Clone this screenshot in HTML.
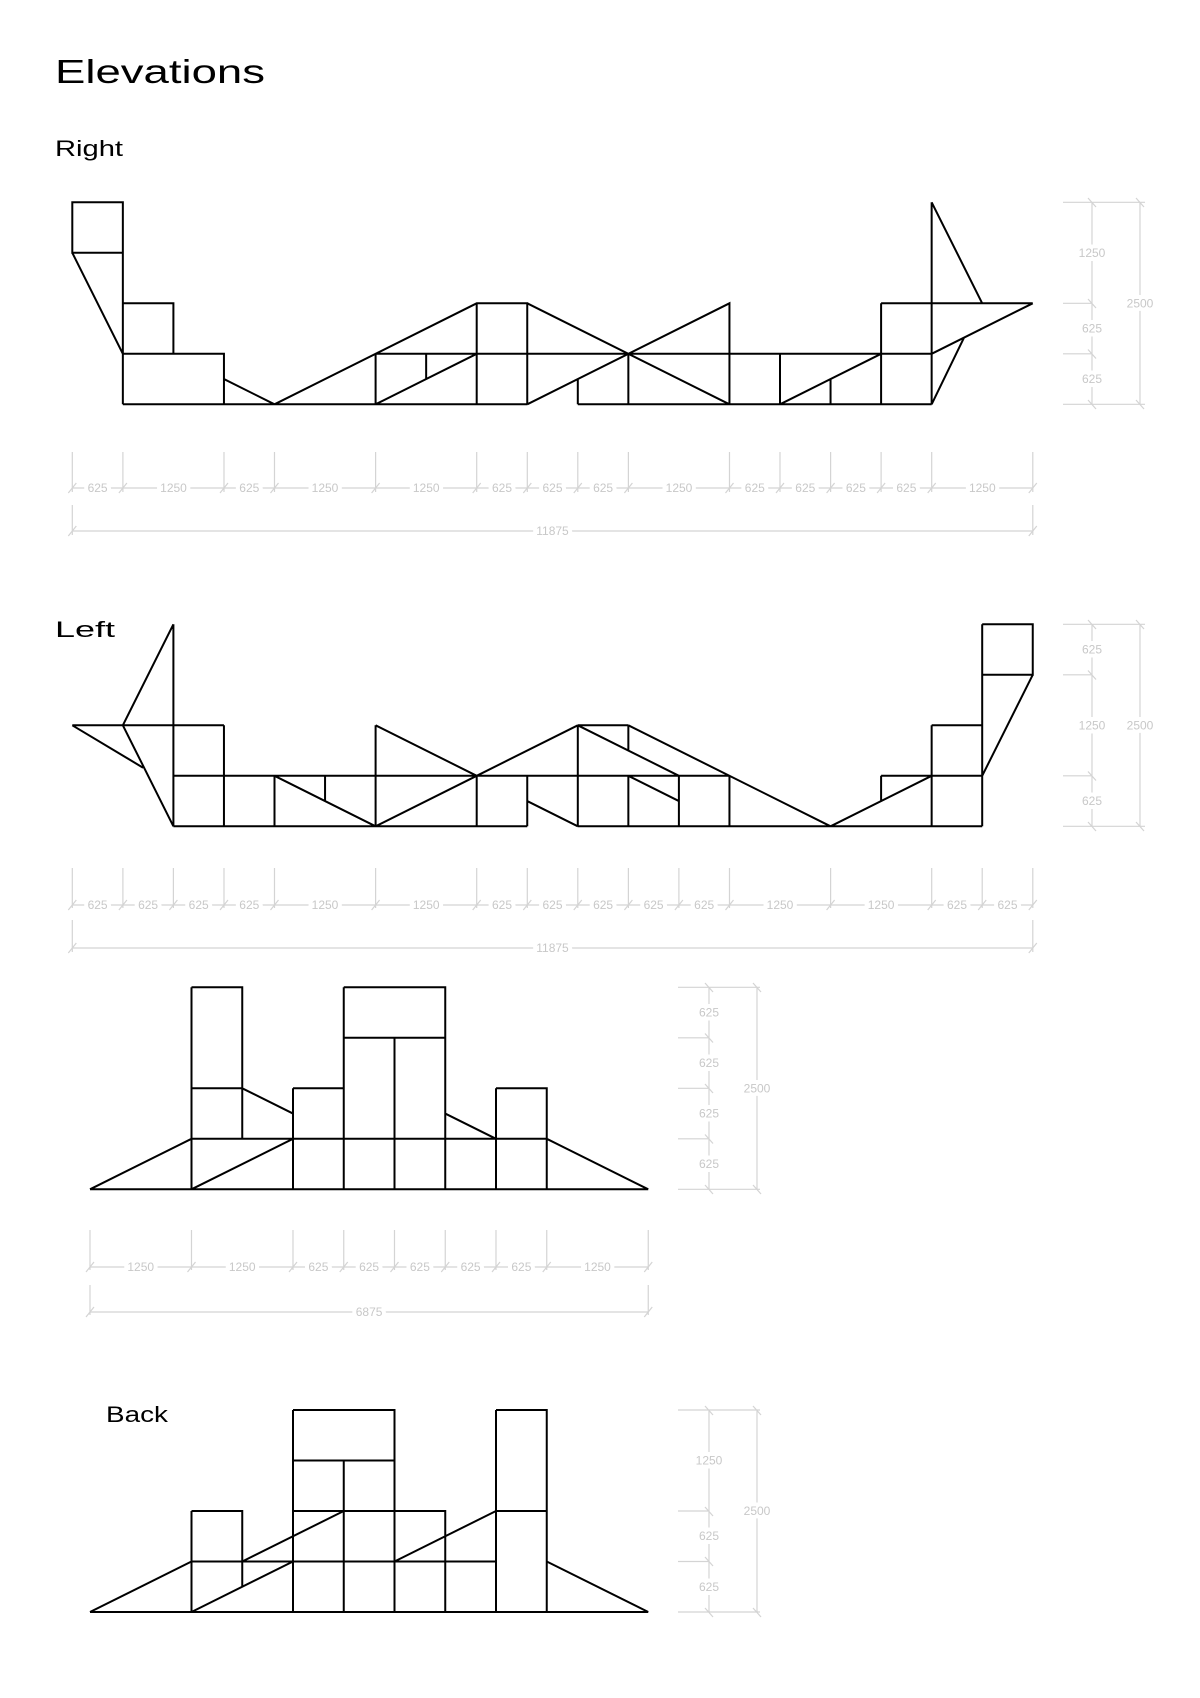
<!DOCTYPE html>
<html><head><meta charset="utf-8"><style>
html,body{margin:0;padding:0;background:#fff;}
svg{display:block;}
.g path{fill:none;stroke:#000;stroke-width:2;vector-effect:non-scaling-stroke;stroke-linejoin:miter;}
.d line,.d path{stroke:#d4d4d4;stroke-width:1.2;fill:none;}
.d text{font-family:"Liberation Sans",sans-serif;font-size:12px;fill:#c8c8c8;text-anchor:middle;dominant-baseline:central;paint-order:stroke;stroke:#fff;stroke-width:8px;}
.t{font-family:"Liberation Sans",sans-serif;fill:#000;}
</style></head><body>
<svg width="1200" height="1698" viewBox="0 0 1200 1698" xmlns="http://www.w3.org/2000/svg">
<text class="t" x="55" y="83" font-size="33" textLength="210" lengthAdjust="spacingAndGlyphs">Elevations</text>
<text class="t" x="55" y="156" font-size="22" textLength="68" lengthAdjust="spacingAndGlyphs">Right</text>
<text class="t" x="55" y="637" font-size="22" textLength="60" lengthAdjust="spacingAndGlyphs">Left</text>
<text class="t" x="106" y="1422" font-size="22" textLength="62" lengthAdjust="spacingAndGlyphs">Back</text>

<!-- RIGHT -->
<g class="g" transform="translate(72.3,202.3) scale(50.55,50.5)"><path d="M0 0H1V1H0Z M0 1L1 3 M1 1V4 M1 2H2V3 M1 3H3V4H1 M3 3.5L4 4 M1 4H9 M4 4L8 2H9V4 M8 2V4 M6 3H17 M6 3V4 M7 3V3.5 M6 4L8 3 M9 2L13 4 M9 4L13 2V4 M10 3.5V4 M10 4H17 M11 3V4 M14 3V4 M14 4L16 3 M15 3.5V4 M16 2H19 M16 2V4 M17 0V4 M17 0L18 2 M19 2L17 3 M17 4L17.64 2.68"/></g>

<!-- LEFT -->
<g class="g" transform="translate(72.3,624.3) scale(50.55,50.5)"><path d="M0 2H3 M0 2L1.4 2.84 M1 2L2 4 M2 0L1 2 M2 0V4 M3 2V4 M2 3H13 M2 4H9 M10 4H18 M4 3V4 M4 3L6 4 M5 3V3.5 M6 2V4 M6 2L8 3 M6 4L8 3L10 2 M8 3V4 M9 3V4 M9 3.5L10 4 M10 2V4 M10 2H11 M11 2V2.5 M11 3V4 M10 2L12 3 M11 2L15 4 M11 3L12 3.5 M12 3V4 M13 3V4 M15 4L17 3 M16 3H18 M16 3V3.5 M17 2V4 M17 2H18 M18 0V4 M18 0H19V1H18 M19 1L18 3"/></g>

<!-- FRONT -->
<g class="g" transform="translate(90,987.3) scale(50.75,50.5)"><path d="M0 4H11 M0 4L2 3H9L11 4 M2 4L4 3 M2 0V4 M2 0H3V3 M2 2H3 M3 2L4 2.5 M4 2H5 M4 2V4 M5 0V4 M5 0H7V4 M5 1H7 M6 1V4 M7 2.5L8 3 M8 2H9V4 M8 2V4"/></g>

<!-- BACK -->
<g class="g" transform="translate(90,1410) scale(50.75,50.5)"><path d="M0 4H11 M0 4L2 3H8 M9 3L11 4 M2 2H3V3.5 M2 2V4 M2 4L4 3 M3 3L5 2 M6 3L8 2 M4 0H6V4 M4 0V4 M4 1H6 M5 1V4 M4 2H7V4 M8 0H9V4 M8 0V4 M8 2H9"/></g>

<!-- DIMS RIGHT horizontal -->
<g class="d">
<path d="M72.3 452V492 M122.9 452V492 M224 452V492 M274.5 452V492 M375.6 452V492 M476.7 452V492 M527.3 452V492 M577.8 452V492 M628.4 452V492 M729.5 452V492 M780 452V492 M830.6 452V492 M881.1 452V492 M931.7 452V492 M1032.8 452V492 M72.3 488H1032.8 M72.3 505V535 M1032.8 505V535 M72.3 531H1032.8"/>
<path d="M68.3 493L76.3 483 M118.9 493L126.9 483 M220 493L228 483 M270.5 493L278.5 483 M371.6 493L379.6 483 M472.7 493L480.7 483 M523.3 493L531.3 483 M573.8 493L581.8 483 M624.4 493L632.4 483 M725.5 493L733.5 483 M776 493L784 483 M826.6 493L834.6 483 M877.1 493L885.1 483 M927.7 493L935.7 483 M1028.8 493L1036.8 483 M68.3 536L76.3 526 M1028.8 536L1036.8 526"/>
<text x="97.6" y="488">625</text><text x="173.5" y="488">1250</text><text x="249.3" y="488">625</text><text x="325" y="488">1250</text><text x="426.2" y="488">1250</text><text x="502" y="488">625</text><text x="552.5" y="488">625</text><text x="603.1" y="488">625</text><text x="679" y="488">1250</text><text x="754.8" y="488">625</text><text x="805.3" y="488">625</text><text x="855.9" y="488">625</text><text x="906.4" y="488">625</text><text x="982.3" y="488">1250</text>
<text x="552.5" y="531">11875</text>
</g>
<!-- RIGHT vertical -->
<g class="d">
<path d="M1063 202.3H1145 M1063 303.3H1092 M1063 353.8H1092 M1063 404.3H1145 M1092 202.3V404.3 M1140 202.3V404.3 M1088 198L1096 207 M1088 299L1096 308 M1088 349.5L1096 358.5 M1088 400L1096 409 M1136 198L1144 207 M1136 400L1144 409"/>
<text x="1092" y="252.8">1250</text><text x="1092" y="328.5">625</text><text x="1092" y="379">625</text><text x="1140" y="303.3">2500</text>
</g>

<!-- DIMS LEFT horizontal -->
<g class="d">
<path d="M72.3 868V908 M122.9 868V908 M173.4 868V908 M224 868V908 M274.5 868V908 M375.6 868V908 M476.7 868V908 M527.3 868V908 M577.8 868V908 M628.4 868V908 M678.9 868V908 M729.5 868V908 M830.6 868V908 M931.7 868V908 M982.2 868V908 M1032.8 868V908 M72.3 905H1032.8 M72.3 920V952 M1032.8 920V952 M72.3 948H1032.8"/>
<path d="M68.3 910L76.3 900 M118.9 910L126.9 900 M169.4 910L177.4 900 M220 910L228 900 M270.5 910L278.5 900 M371.6 910L379.6 900 M472.7 910L480.7 900 M523.3 910L531.3 900 M573.8 910L581.8 900 M624.4 910L632.4 900 M674.9 910L682.9 900 M725.5 910L733.5 900 M826.6 910L834.6 900 M927.7 910L935.7 900 M978.2 910L986.2 900 M1028.8 910L1036.8 900 M68.3 953L76.3 943 M1028.8 953L1036.8 943"/>
<text x="97.6" y="905">625</text><text x="148.1" y="905">625</text><text x="198.7" y="905">625</text><text x="249.3" y="905">625</text><text x="325" y="905">1250</text><text x="426.2" y="905">1250</text><text x="502" y="905">625</text><text x="552.5" y="905">625</text><text x="603.1" y="905">625</text><text x="653.6" y="905">625</text><text x="704.2" y="905">625</text><text x="780" y="905">1250</text><text x="881.1" y="905">1250</text><text x="957" y="905">625</text><text x="1007.5" y="905">625</text>
<text x="552.5" y="948">11875</text>
</g>
<!-- LEFT vertical -->
<g class="d">
<path d="M1063 624.3H1145 M1063 674.8H1092 M1063 775.8H1092 M1063 826.3H1145 M1092 624.3V826.3 M1140 624.3V826.3 M1088 620L1096 629 M1088 670.5L1096 679.5 M1088 771.5L1096 780.5 M1088 822L1096 831 M1136 620L1144 629 M1136 822L1144 831"/>
<text x="1092" y="649.5">625</text><text x="1092" y="725.3">1250</text><text x="1092" y="801">625</text><text x="1140" y="725.3">2500</text>
</g>

<!-- FRONT horizontal -->
<g class="d">
<path d="M90 1230V1270 M191.5 1230V1270 M293 1230V1270 M343.75 1230V1270 M394.5 1230V1270 M445.25 1230V1270 M496 1230V1270 M546.75 1230V1270 M648.25 1230V1270 M90 1267H648.25 M90 1285V1315 M648.25 1285V1315 M90 1312H648.25"/>
<path d="M86 1272L94 1262 M187.5 1272L195.5 1262 M289 1272L297 1262 M339.75 1272L347.75 1262 M390.5 1272L398.5 1262 M441.25 1272L449.25 1262 M492 1272L500 1262 M542.75 1272L550.75 1262 M644.25 1272L652.25 1262 M86 1317L94 1307 M644.25 1317L652.25 1307"/>
<text x="140.7" y="1267">1250</text><text x="242.2" y="1267">1250</text><text x="318.4" y="1267">625</text><text x="369.1" y="1267">625</text><text x="419.9" y="1267">625</text><text x="470.6" y="1267">625</text><text x="521.4" y="1267">625</text><text x="597.5" y="1267">1250</text>
<text x="369.1" y="1312">6875</text>
</g>
<!-- FRONT vertical -->
<g class="d">
<path d="M678 987.3H760 M678 1037.8H709 M678 1088.3H709 M678 1138.8H709 M678 1189.3H760 M709 987.3V1189.3 M757 987.3V1189.3 M705 983L713 992 M705 1033.5L713 1042.5 M705 1084L713 1093 M705 1134.5L713 1143.5 M705 1185L713 1194 M753 983L761 992 M753 1185L761 1194"/>
<text x="709" y="1012.5">625</text><text x="709" y="1063">625</text><text x="709" y="1113.5">625</text><text x="709" y="1164">625</text><text x="757" y="1088.3">2500</text>
</g>
<!-- BACK vertical -->
<g class="d">
<path d="M678 1410H760 M678 1511H709 M678 1561.5H709 M678 1612H760 M709 1410V1612 M757 1410V1612 M705 1406L713 1415 M705 1507L713 1516 M705 1557L713 1566 M705 1608L713 1617 M753 1406L761 1415 M753 1608L761 1617"/>
<text x="709" y="1460.5">1250</text><text x="709" y="1536">625</text><text x="709" y="1587">625</text><text x="757" y="1511">2500</text>
</g>
</svg>
</body></html>
